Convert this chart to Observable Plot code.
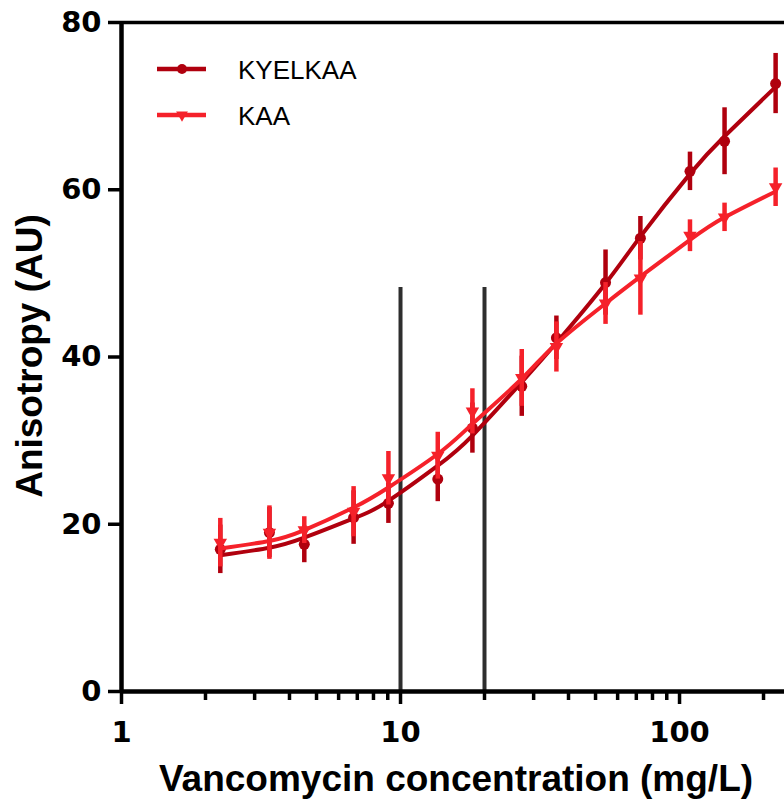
<!DOCTYPE html>
<html><head><meta charset="utf-8">
<script src="https://cdn.jsdelivr.net/npm/d3@7"></script>
<script src="https://cdn.jsdelivr.net/npm/@observablehq/plot@0.6"></script>
<style>body{margin:0;background:#fff}#chart{width:784px;height:803px}</style>
</head><body><div id="chart"></div>
<script>
// Data
const conc = [2.26, 3.39, 4.52, 6.79, 9.05, 13.6, 18.1, 27.2, 36.2, 54.3, 72.4, 109, 145, 221];
const kyelkaaMean = [17.0, 19.0, 17.6, 20.8, 22.5, 25.4, 31.5, 36.5, 42.3, 48.9, 54.2, 62.2, 65.8, 72.7];
const kyelkaaErr  = [2.9, 3.0, 2.2, 3.2, 2.4, 2.7, 3.0, 3.6, 2.6, 3.9, 2.6, 2.3, 4.0, 3.6];
const kaaMean = [17.8, 19.0, 19.3, 21.5, 25.5, 28.2, 33.5, 37.5, 41.2, 46.4, 49.4, 54.5, 56.7, 60.3];
const kaaErr  = [2.9, 3.2, 1.6, 3.0, 3.2, 2.8, 2.7, 3.4, 3.0, 2.5, 4.4, 1.9, 1.7, 2.3];
const kyelkaaFit = [16.3, 17.2, 18.4, 20.7, 22.8, 27.0, 30.6, 37.0, 41.7, 48.8, 54.4, 61.9, 66.4, 72.3];
const kaaFit     = [17.1, 18.0, 19.3, 22.0, 24.4, 28.4, 32.0, 37.4, 41.6, 46.4, 49.6, 54.0, 56.7, 59.8];
const seriesNames = ["KYELKAA", "KAA"];
const seriesColors = ["#b0000e", "#f5212a"];
const refLines = [10, 20];
const refTop = 48.3;
const yTicks = [0, 20, 40, 60, 80];
const xMajor = [1, 10, 100];
const xMinor = [2,3,4,5,6,7,8,9,20,30,40,50,60,70,80,90,200];
const xDomain = [1, 237.8];
const yDomain = [0, 80];
const xTitle = "Vancomycin concentration (mg/L)";
const yTitle = "Anisotropy (AU)";

const pts = [], fits = [];
const means = [kyelkaaMean, kaaMean], errs = [kyelkaaErr, kaaErr], fitv = [kyelkaaFit, kaaFit];
seriesNames.forEach((s, k) => conc.forEach((c, i) => {
  pts.push({series: s, conc: c, y: means[k][i], lo: means[k][i] - errs[k][i], hi: means[k][i] + errs[k][i]});
  fits.push({series: s, conc: c, y: fitv[k][i]});
}));

const plot = Plot.plot({
  width: 784, height: 803,
  marginLeft: 121, marginRight: 0, marginTop: 22, marginBottom: 112,
  style: {fontFamily: "'DejaVu Sans', sans-serif", fontWeight: "bold", fontSize: "29px", color: "#000", background: "#fff", overflow: "visible"},
  x: {type: "log", domain: xDomain},
  y: {domain: yDomain},
  color: {domain: seriesNames, range: seriesColors},
  marks: [
    Plot.axisY({ticks: yTicks, tickSize: 13, tickPadding: 7, strokeWidth: 3.5, label: null, fontSize: 29, tickFormat: d => String(d)}),
    Plot.axisX({ticks: xMajor, tickSize: 13, tickPadding: 17, strokeWidth: 3.5, label: null, fontSize: 29, tickFormat: d => String(d)}),
    Plot.axisX({ticks: xMinor, tickSize: 9, strokeWidth: 3.5, label: null, tickFormat: () => ""}),
    Plot.ruleX(refLines, {y1: 0, y2: refTop, stroke: "#2e2e2e", strokeWidth: 4}),
    Plot.line(fits.filter(d => d.series === "KYELKAA"), {x: "conc", y: "y", stroke: "series", strokeWidth: 4, curve: "natural"}),
    Plot.ruleX(pts.filter(d => d.series === "KYELKAA"), {x: "conc", y1: "lo", y2: "hi", stroke: "series", strokeWidth: 4.5}),
    Plot.dot(pts.filter(d => d.series === "KYELKAA"), {x: "conc", y: "y", fill: "series", r: 5.5, symbol: "circle"}),
    Plot.line(fits.filter(d => d.series === "KAA"), {x: "conc", y: "y", stroke: "series", strokeWidth: 4, curve: "natural"}),
    Plot.ruleX(pts.filter(d => d.series === "KAA"), {x: "conc", y1: "lo", y2: "hi", stroke: "series", strokeWidth: 4.5}),
    Plot.dot(pts.filter(d => d.series === "KAA"), {x: "conc", y: "y", fill: "series", r: 5, symbol: "triangle", rotate: 180}),
    Plot.ruleY([yDomain[0]], {stroke: "#000", strokeWidth: 4.5}),
    Plot.ruleY([yDomain[1]], {stroke: "#000", strokeWidth: 3.5}),
    Plot.ruleX([xDomain[0]], {stroke: "#000", strokeWidth: 4.5})
  ]
});

const svg = d3.select(plot);
// axis titles
svg.append("text").attr("x", 456).attr("y", 791).attr("text-anchor", "middle")
  .style("font-family", "'Liberation Sans', Arial, sans-serif").style("font-weight", "bold").style("font-size", "37px")
  .attr("fill", "#000").text(xTitle);
svg.append("text").attr("transform", "translate(42,356) rotate(-90)").attr("text-anchor", "middle")
  .style("font-family", "'Liberation Sans', Arial, sans-serif").style("font-weight", "bold").style("font-size", "37px")
  .attr("fill", "#000").text(yTitle);
// legend
const lg = svg.append("g").style("font-family", "'Liberation Sans', Arial, sans-serif").style("font-weight", "normal").style("font-size", "26px");
seriesNames.forEach((s, i) => {
  const y = 69 + i * 46;
  lg.append("line").attr("x1", 157).attr("x2", 206).attr("y1", y).attr("y2", y).attr("stroke", seriesColors[i]).attr("stroke-width", 4.5);
  if (i === 0) lg.append("circle").attr("cx", 182).attr("cy", y).attr("r", 5).attr("fill", seriesColors[i]);
  else lg.append("path").attr("d", d3.symbol(d3.symbolTriangle, 60)()).attr("transform", `translate(182,${y}) rotate(180)`).attr("fill", seriesColors[i]);
  lg.append("text").attr("x", 238).attr("y", y + 10).attr("text-anchor", "start").attr("fill", "#000").text(s);
});
document.getElementById("chart").appendChild(plot);
</script>
</body></html>
